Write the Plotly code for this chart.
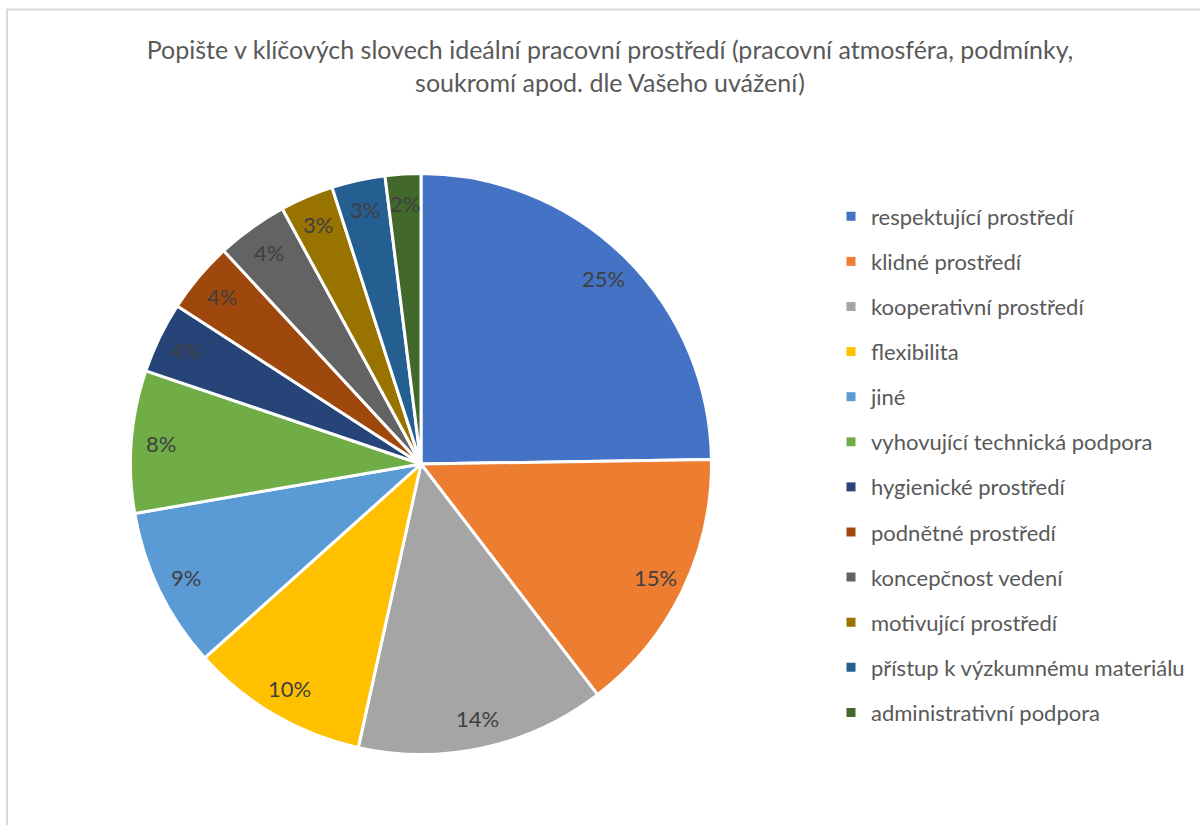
import plotly.graph_objects as go
import math

title_text = ("Popište v klíčových slovech ideální pracovní prostředí (pracovní atmosféra, podmínky,"
              "<br>soukromí apod. dle Vašeho uvážení)")
categories = ["respektující prostředí", "klidné prostředí", "kooperativní prostředí", "flexibilita",
              "jiné", "vyhovující technická podpora", "hygienické prostředí", "podnětné prostředí",
              "koncepčnost vedení", "motivující prostředí", "přístup k výzkumnému materiálu",
              "administrativní podpora"]
values = [25, 15, 14, 10, 9, 8, 4, 4, 4, 3, 3, 2]
colors = ["#4472C4", "#ED7D31", "#A5A5A5", "#FFC000", "#5B9BD5", "#70AD47",
          "#264478", "#9E480E", "#636363", "#997300", "#255E91", "#43682B"]

W, H = 1200, 825
cx, cy, R = 421, 464, 290.5
FONT = "Lato"
LEG_SIZE = 22
ITEM_STEP = 45.2

fig = go.Figure()
fig.add_trace(go.Pie(
    labels=categories, values=values, sort=False, direction="clockwise", rotation=0,
    marker=dict(colors=colors, line=dict(color="white", width=3)),
    textinfo="none", hoverinfo="label+percent", showlegend=False,
    domain=dict(x=[(cx - R) / W, (cx + R) / W], y=[1 - (cy + R) / H, 1 - (cy - R) / H]),
))

# legend entries
for i, (c, col) in enumerate(zip(categories, colors)):
    fig.add_trace(go.Scatter(x=[None], y=[None], mode="markers", name=c, legendgroup=f"g{i}",
                             marker=dict(symbol="square", size=9, color=col), showlegend=True,
                             hoverinfo="skip"))

# percentage labels placed near the outer edge of each slice
total = sum(values)
annotations = []
cum = 0
r_lab = 0.897 * R
for v in values:
    mid = (cum + v / 2) / total * 2 * math.pi
    cum += v
    px = cx + r_lab * math.sin(mid)
    py = cy - r_lab * math.cos(mid)
    annotations.append(dict(x=px / W, y=1 - py / H, xref="paper", yref="paper",
                            text=f"{round(v / total * 100)}%", showarrow=False,
                            font=dict(family=FONT, size=22, color="#404040"),
                            xanchor="center", yanchor="middle"))

item_h = LEG_SIZE * 1.3 + 3
fig.update_layout(
    width=W, height=H,
    margin=dict(l=0, r=0, t=0, b=0),
    paper_bgcolor="white", plot_bgcolor="white",
    title=dict(text=title_text, x=610 / W, xanchor="center", y=1 - 59 / H, yanchor="middle",
               font=dict(family=FONT, size=25, color="#595959")),
    xaxis=dict(visible=False), yaxis=dict(visible=False),
    legend=dict(x=831 / W, xanchor="left", y=1 - 195.5 / H, yanchor="top",
                font=dict(family=FONT, size=LEG_SIZE, color="#595959"),
                tracegroupgap=ITEM_STEP - item_h - 0.1, traceorder="grouped",
                bgcolor="rgba(0,0,0,0)"),
    annotations=annotations,
    shapes=[dict(type="rect", xref="paper", yref="paper", x0=7 / W, x1=1.05, y0=-0.05,
                 y1=1 - 9.5 / H, line=dict(color="#D9D9D9", width=2), fillcolor="rgba(0,0,0,0)",
                 layer="below")],
)

fig.write_html("out.html")
